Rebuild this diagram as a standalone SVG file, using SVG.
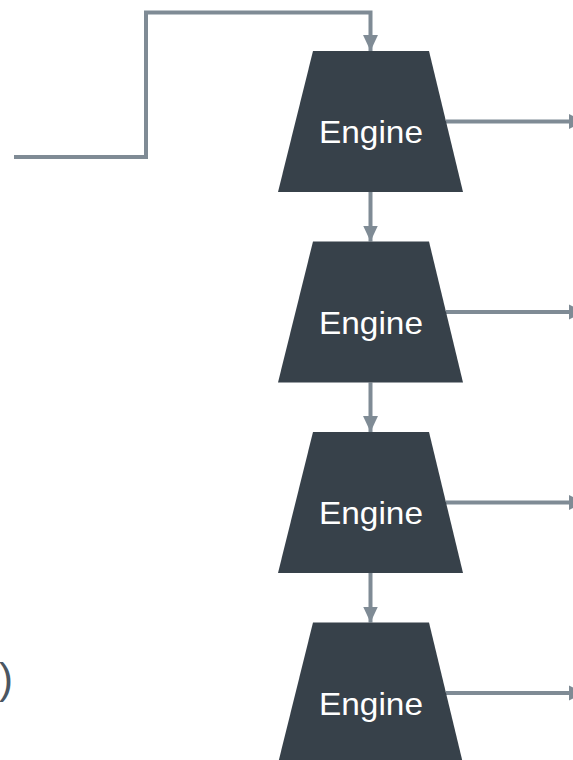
<svg xmlns="http://www.w3.org/2000/svg" width="573" height="760" viewBox="0 0 573 760">
  <style>
    .engine { fill: #37414a; }
    .label { fill: #ffffff; font-family: "Liberation Sans", Arial, sans-serif; font-size: 32px; text-anchor: middle; }
    .wire { fill: none; stroke: #7f8b95; stroke-width: 4; }
    .paren { fill: #4b5661; font-family: "Liberation Sans", Arial, sans-serif; font-size: 42px; }
  </style>
  <defs>
    <marker id="arrow" markerUnits="userSpaceOnUse" markerWidth="16" markerHeight="16" viewBox="0 0 15 14" refX="15" refY="7" orient="auto">
      <path d="M0,0 L15,7 L0,14 Z" fill="#7f8b95"/>
    </marker>
  </defs>

  <!-- connectors -->
  <g id="connectors">
    <path class="wire" d="M14,157 H146 V12.5 H370.5 V51" marker-end="url(#arrow)"/>
    <path class="wire" d="M370.5,192 V241.5" marker-end="url(#arrow)"/>
    <path class="wire" d="M370.5,382.5 V432" marker-end="url(#arrow)"/>
    <path class="wire" d="M370.5,573 V622.5" marker-end="url(#arrow)"/>
    <path class="wire" d="M446,121.5 H585" marker-end="url(#arrow)"/>
    <path class="wire" d="M446,312 H585" marker-end="url(#arrow)"/>
    <path class="wire" d="M446,502.5 H585" marker-end="url(#arrow)"/>
    <path class="wire" d="M446,693 H585" marker-end="url(#arrow)"/>
  </g>

  <!-- engine stages -->
  <g id="engine1">
    <polygon class="engine" points="313,51 429,51 463,192 278,192"/>
    <text class="label" x="371" y="143" textLength="104" lengthAdjust="spacingAndGlyphs">Engine</text>
  </g>
  <g id="engine2">
    <polygon class="engine" points="313,241.5 429,241.5 463,382.5 278,382.5"/>
    <text class="label" x="371" y="333.5" textLength="104" lengthAdjust="spacingAndGlyphs">Engine</text>
  </g>
  <g id="engine3">
    <polygon class="engine" points="313,432 429,432 463,573 278,573"/>
    <text class="label" x="371" y="524" textLength="104" lengthAdjust="spacingAndGlyphs">Engine</text>
  </g>
  <g id="engine4">
    <polygon class="engine" points="313,622.5 429,622.5 463,763.5 278,763.5"/>
    <text class="label" x="371" y="714.5" textLength="104" lengthAdjust="spacingAndGlyphs">Engine</text>
  </g>

  <text class="paren" x="-1" y="693">)</text>
</svg>
